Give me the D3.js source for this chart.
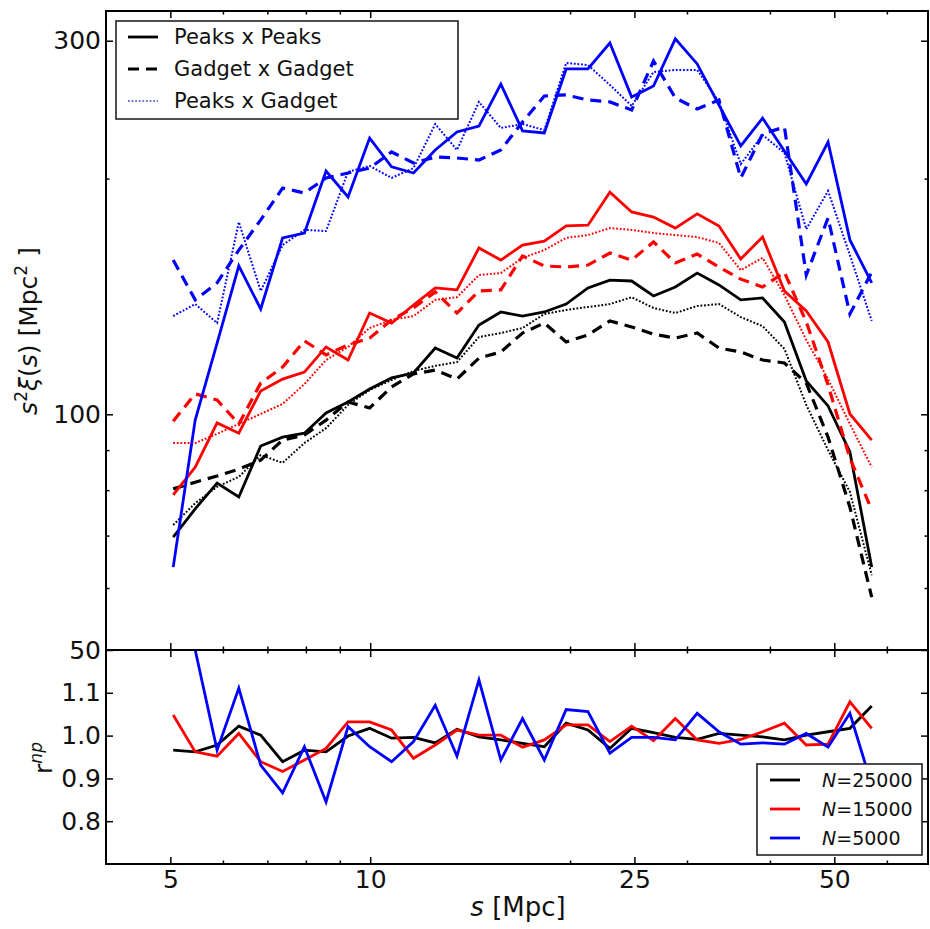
<!DOCTYPE html>
<html>
<head>
<meta charset="utf-8">
<script src="https://cdn.jsdelivr.net/npm/d3@7"></script>
<style>
  html, body { margin: 0; padding: 0; background: #fff; }
  svg { display: block; font-family: "DejaVu Sans", sans-serif; }
</style>
</head>
<body>
<svg id="chart" width="930" height="929"></svg>
<script>
// Pair separation bins s [Mpc]
const sBins = [5.05, 5.45, 5.88, 6.34, 6.84, 7.38, 7.96, 8.58, 9.26, 9.98, 10.77, 11.62,
  12.53, 13.51, 14.58, 15.73, 16.96, 18.29, 19.73, 21.28, 22.96, 24.76, 26.71, 28.81,
  31.08, 33.52, 36.15, 38.99, 42.06, 45.37, 48.93, 52.78, 56.93];

// s^2 xi(s) for N = 5000
const peaksPeaksN5000 = [63.8, 98.3, 123.3, 154.7, 136.3, 168.0, 170.4, 204.5, 189.5, 225.3, 207.0, 203.3,
  217.6, 229.4, 233.4, 264.1, 230.1, 228.7, 276.1, 276.1, 298.0, 254.2, 262.6, 301.6,
  280.2, 248.3, 220.2, 239.0, 216.9, 196.9, 222.7, 167.0, 147.2];
const gadgetGadgetN5000 = [157.4, 140.0, 147.2, 162.1, 177.1, 194.5, 191.7, 200.4, 203.3, 206.3, 216.3, 209.4,
  213.1, 212.5, 211.2, 217.6, 236.2, 255.0, 255.8, 252.0, 250.6, 244.7, 282.6, 253.5,
  245.4, 252.0, 200.4, 228.0, 232.8, 150.6, 178.1, 134.3, 151.9];
const peaksGadgetN5000 = [133.5, 138.3, 130.8, 176.0, 143.7, 164.5, 172.0, 171.4, 204.0, 207.6, 200.4, 206.3,
  234.8, 217.6, 250.6, 232.1, 234.8, 230.7, 281.0, 279.3, 263.4, 247.6, 273.6, 275.3,
  275.3, 250.6, 208.7, 227.4, 215.7, 172.4, 192.9, 159.7, 131.6];

// s^2 xi(s) for N = 15000
const peaksPeaksN15000 = [78.9, 85.6, 97.5, 94.6, 107.1, 110.9, 113.2, 121.9, 117.3, 134.7, 130.8, 137.9,
  145.0, 144.2, 163.1, 157.4, 164.5, 166.4, 174.0, 174.4, 192.2, 181.3, 178.6, 172.9,
  180.3, 174.0, 157.9, 168.4, 143.7, 135.5, 123.7, 100.1, 92.7];
const gadgetGadgetN15000 = [98.0, 106.2, 104.3, 97.2, 109.6, 114.9, 124.1, 119.1, 122.6, 125.1, 132.0, 136.7,
  143.3, 134.7, 143.7, 144.2, 159.3, 154.7, 154.2, 155.1, 160.7, 157.4, 166.0, 156.1,
  160.2, 154.2, 148.8, 145.4, 151.9, 131.2, 109.0, 87.9, 75.5];
const peaksGadgetN15000 = [91.9, 91.9, 94.4, 97.2, 100.1, 103.1, 109.3, 117.3, 121.9, 128.9, 132.0, 133.5,
  140.0, 141.1, 150.6, 151.5, 158.4, 162.1, 168.0, 169.4, 172.9, 172.0, 170.4, 169.4,
  168.4, 165.5, 152.8, 158.4, 142.0, 124.4, 110.9, 97.2, 85.6];

// s^2 xi(s) for N = 25000
const peaksPeaksN25000 = [69.7, 75.7, 81.7, 78.4, 91.1, 93.5, 94.6, 100.4, 103.7, 107.7, 111.3, 112.9,
  121.5, 118.0, 130.0, 135.1, 133.5, 135.1, 138.3, 145.0, 148.4, 148.0, 141.6, 145.4,
  151.5, 146.3, 140.0, 140.8, 131.2, 110.3, 102.5, 89.5, 63.8];
const gadgetGadgetN25000 = [80.3, 81.9, 83.4, 85.1, 87.4, 92.7, 94.1, 98.3, 103.7, 101.9, 108.4, 112.6,
  113.9, 110.9, 118.0, 120.1, 127.0, 130.8, 123.7, 126.3, 131.6, 129.3, 126.6, 125.1,
  127.0, 121.5, 120.1, 117.3, 116.3, 109.6, 93.5, 76.1, 58.4];
const peaksGadgetN25000 = [72.2, 77.0, 80.8, 83.2, 88.7, 86.7, 91.9, 96.0, 102.8, 107.4, 110.6, 113.6,
  115.3, 116.6, 125.5, 127.0, 128.9, 134.3, 135.9, 137.1, 138.3, 141.1, 136.7, 134.7,
  137.5, 138.3, 133.1, 129.6, 121.2, 102.8, 90.0, 79.6, 62.3];

// Cross-correlation coefficient r^np
const ratioN25000 = [0.966, 0.962, 0.978, 1.022, 1.001, 0.939, 0.966, 0.962, 0.999, 1.017, 0.994, 0.996,
  0.983, 1.015, 0.997, 0.990, 0.982, 0.974, 1.029, 1.013, 0.970, 1.017, 1.007, 0.996,
  0.991, 1.005, 1.001, 0.997, 0.990, 1.001, 1.009, 1.017, 1.069];
const ratioN15000 = [1.048, 0.962, 0.952, 1.005, 0.939, 0.916, 0.943, 0.970, 1.032, 1.032, 1.013, 0.947,
  0.978, 1.013, 1.001, 1.001, 0.973, 0.990, 1.025, 1.025, 0.986, 1.022, 0.988, 1.040,
  0.990, 0.982, 0.991, 1.009, 1.029, 0.978, 0.980, 1.079, 1.017];
const ratioN5000 = [1.33, 1.20, 0.966, 1.111, 0.931, 0.866, 0.974, 0.845, 1.021, 0.974, 0.939, 0.986,
  1.071, 0.952, 1.130, 0.943, 1.040, 0.943, 1.061, 1.056, 0.959, 0.996, 0.996, 0.990,
  1.052, 1.009, 0.980, 0.983, 0.980, 1.005, 0.973, 1.052, 0.885];

// Ticks and legend text
const xMajorTicks = [5, 10, 25, 50];
const xMinorTicks = [6, 7, 8, 9, 20, 30, 40, 60];
const yTopMajorTicks = [50, 100, 300];
const yTopMinorTicks = [60, 70, 80, 90, 200];
const yBotMajorTicks = [0.8, 0.9, 1.0, 1.1];
const pairLabels = ["Peaks x Peaks", "Gadget x Gadget", "Peaks x Gadget"];
const sampleSizes = ["25000", "15000", "5000"];

// ---- layout ----
const svg = d3.select("#chart");
const L = 106, R = 928, T = 11, M = 650, B = 864;

const x = d3.scaleLog().domain([4, 69.2]).range([L, R]);
const yTop = d3.scaleLog().domain([50, 327.4]).range([M, T]);
const yBot = d3.scaleLinear().domain([0.7, 1.2]).range([B, M]);

const colors = { "25000": "#000000", "15000": "#ff0000", "5000": "#0000ff" };
const lineStyles = {
  solid:  { width: 2.8, dash: null },
  dashed: { width: 3.2, dash: "11,7" },
  dotted: { width: 2.0, dash: "1.8,1.8" }
};

const defs = svg.append("defs");
defs.append("clipPath").attr("id", "clipTop")
  .append("rect").attr("x", L).attr("y", T).attr("width", R - L).attr("height", M - T);
defs.append("clipPath").attr("id", "clipBot")
  .append("rect").attr("x", L).attr("y", M).attr("width", R - L).attr("height", B - M);

// ---- top panel curves ----
const topSeries = [
  { n: "25000", style: "dotted", v: peaksGadgetN25000 },
  { n: "25000", style: "dashed", v: gadgetGadgetN25000 },
  { n: "25000", style: "solid",  v: peaksPeaksN25000 },
  { n: "15000", style: "dotted", v: peaksGadgetN15000 },
  { n: "15000", style: "dashed", v: gadgetGadgetN15000 },
  { n: "15000", style: "solid",  v: peaksPeaksN15000 },
  { n: "5000",  style: "dotted", v: peaksGadgetN5000 },
  { n: "5000",  style: "dashed", v: gadgetGadgetN5000 },
  { n: "5000",  style: "solid",  v: peaksPeaksN5000 }
];

const topLine = d3.line().x((d, i) => x(sBins[i])).y(d => yTop(d));
const gTop = svg.append("g").attr("clip-path", "url(#clipTop)");
topSeries.forEach(s => {
  const st = lineStyles[s.style];
  gTop.append("path")
    .datum(s.v)
    .attr("d", topLine)
    .attr("fill", "none")
    .attr("stroke", colors[s.n])
    .attr("stroke-width", st.width)
    .attr("stroke-dasharray", st.dash)
    .attr("stroke-linejoin", "miter");
});

// ---- bottom panel curves ----
const botSeries = [
  { n: "25000", v: ratioN25000 },
  { n: "15000", v: ratioN15000 },
  { n: "5000",  v: ratioN5000 }
];
const botLine = d3.line().x((d, i) => x(sBins[i])).y(d => yBot(d));
const gBot = svg.append("g").attr("clip-path", "url(#clipBot)");
botSeries.forEach(s => {
  gBot.append("path")
    .datum(s.v)
    .attr("d", botLine)
    .attr("fill", "none")
    .attr("stroke", colors[s.n])
    .attr("stroke-width", 2.8);
});

// ---- axes (inward ticks on all four sides) ----
function styleAxis(g, fontSize) {
  g.select(".domain").remove();
  g.selectAll(".tick line").attr("stroke", "#000").attr("stroke-width", 1.5);
  g.selectAll(".tick text").attr("fill", "#111").attr("font-size", fontSize)
    .attr("font-family", "DejaVu Sans, sans-serif");
}
function addAxis(axis, tx, ty, fontSize) {
  const g = svg.append("g").attr("transform", `translate(${tx},${ty})`).call(axis);
  styleAxis(g, fontSize || 24);
  return g;
}
const blank = () => "";

// top panel
addAxis(d3.axisBottom(x).tickValues(xMajorTicks).tickSize(-7).tickFormat(blank), 0, M);
addAxis(d3.axisBottom(x).tickValues(xMinorTicks).tickSize(-3.5).tickFormat(blank), 0, M);
addAxis(d3.axisTop(x).tickValues(xMajorTicks).tickSize(-7).tickFormat(blank), 0, T);
addAxis(d3.axisTop(x).tickValues(xMinorTicks).tickSize(-3.5).tickFormat(blank), 0, T);
addAxis(d3.axisLeft(yTop).tickValues(yTopMajorTicks).tickSize(-7).tickPadding(5).tickFormat(d3.format("d")), L, 0, 25);
addAxis(d3.axisLeft(yTop).tickValues(yTopMinorTicks).tickSize(-3.5).tickFormat(blank), L, 0);
addAxis(d3.axisRight(yTop).tickValues(yTopMajorTicks).tickSize(-7).tickFormat(blank), R, 0);
addAxis(d3.axisRight(yTop).tickValues(yTopMinorTicks).tickSize(-3.5).tickFormat(blank), R, 0);

// bottom panel
addAxis(d3.axisTop(x).tickValues(xMajorTicks).tickSize(-7).tickFormat(blank), 0, M);
addAxis(d3.axisTop(x).tickValues(xMinorTicks).tickSize(-3.5).tickFormat(blank), 0, M);
addAxis(d3.axisBottom(x).tickValues(xMajorTicks).tickSize(-7).tickPadding(6).tickFormat(d3.format("d")), 0, B, 25);
addAxis(d3.axisBottom(x).tickValues(xMinorTicks).tickSize(-3.5).tickFormat(blank), 0, B);
addAxis(d3.axisLeft(yBot).tickValues(yBotMajorTicks).tickSize(-7).tickPadding(5).tickFormat(d3.format(".1f")), L, 0, 25);
addAxis(d3.axisRight(yBot).tickValues(yBotMajorTicks).tickSize(-7).tickFormat(blank), R, 0);

// frames
svg.append("rect").attr("x", L).attr("y", T).attr("width", R - L).attr("height", M - T)
  .attr("fill", "none").attr("stroke", "#000").attr("stroke-width", 2);
svg.append("rect").attr("x", L).attr("y", M).attr("width", R - L).attr("height", B - M)
  .attr("fill", "none").attr("stroke", "#000").attr("stroke-width", 2);

// ---- axis titles ----
const yTitle = svg.append("text")
  .attr("transform", "translate(37,331) rotate(-90)")
  .attr("text-anchor", "middle").attr("font-size", 25).attr("fill", "#111");
yTitle.append("tspan").attr("font-style", "italic").text("s");
yTitle.append("tspan").attr("font-size", 17).attr("dy", -10).text("2");
yTitle.append("tspan").attr("dy", 10).attr("font-style", "italic").text("ξ");
yTitle.append("tspan").text("(");
yTitle.append("tspan").attr("font-style", "italic").text("s");
yTitle.append("tspan").text(") [Mpc");
yTitle.append("tspan").attr("font-size", 17).attr("dy", -10).text("2");
yTitle.append("tspan").attr("dy", 10).text(" ]");

const rTitle = svg.append("text")
  .attr("transform", "translate(52,758) rotate(-90)")
  .attr("text-anchor", "middle").attr("font-size", 25).attr("fill", "#111");
rTitle.append("tspan").text("r");
rTitle.append("tspan").attr("font-size", 17).attr("font-style", "italic").attr("dy", -10).text("np");

const xTitle = svg.append("text")
  .attr("x", 518).attr("y", 916)
  .attr("text-anchor", "middle").attr("font-size", 26).attr("fill", "#111");
xTitle.append("tspan").attr("font-style", "italic").text("s");
xTitle.append("tspan").text(" [Mpc]");

// ---- legend: correlation type ----
const legTop = svg.append("g");
legTop.append("rect").attr("x", 116).attr("y", 21).attr("width", 342).attr("height", 98)
  .attr("fill", "#fff").attr("stroke", "#222").attr("stroke-width", 1.6);
const legTopStyles = ["solid", "dashed", "dotted"];
const legTopColors = ["#000", "#000", "#6a74d6"];
pairLabels.forEach((lab, i) => {
  const yy = 37 + i * 32;
  const st = lineStyles[legTopStyles[i]];
  legTop.append("line").attr("x1", 128).attr("x2", 158).attr("y1", yy).attr("y2", yy)
    .attr("stroke", legTopColors[i]).attr("stroke-width", st.width)
    .attr("stroke-dasharray", st.dash);
  legTop.append("text").attr("x", 174).attr("y", yy).attr("dy", "0.35em")
    .attr("font-size", 21).attr("fill", "#111").text(lab);
});

// ---- legend: sample size ----
const legBot = svg.append("g");
legBot.append("rect").attr("x", 757).attr("y", 764).attr("width", 165).attr("height", 91)
  .attr("fill", "#fff").attr("stroke", "#222").attr("stroke-width", 1.6);
sampleSizes.forEach((n, i) => {
  const yy = 780 + i * 29;
  legBot.append("line").attr("x1", 770).attr("x2", 800).attr("y1", yy).attr("y2", yy)
    .attr("stroke", colors[n]).attr("stroke-width", 2.8);
  const t = legBot.append("text").attr("x", 822).attr("y", yy).attr("dy", "0.35em")
    .attr("font-size", 19).attr("fill", "#111");
  t.append("tspan").attr("font-style", "italic").text("N");
  t.append("tspan").text("=" + n);
});
</script>
</body>
</html>
